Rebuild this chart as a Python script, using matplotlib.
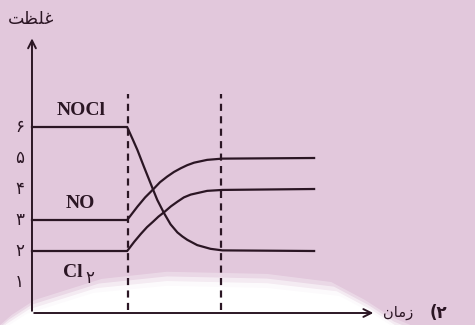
import matplotlib
matplotlib.use("Agg")
import matplotlib.pyplot as plt
from matplotlib.patches import Polygon

# values (time, concentration)
t_start = [0, 3.07]
nocl_t = [3.07, 3.25, 3.40, 3.61, 3.91, 4.04, 4.26, 4.47, 4.69, 4.85, 5.01, 5.33, 5.76, 6.14, 9.10]
nocl_c = [6.0, 5.6, 5.26, 4.72, 3.97, 3.65, 3.22, 2.86, 2.60, 2.47, 2.36, 2.19, 2.07, 2.02, 2.0]
no_t = [3.07, 3.40, 3.65, 3.91, 4.13, 4.36, 4.58, 4.80, 5.01, 5.23, 5.65, 6.14, 9.10]
no_c = [3.0, 3.43, 3.73, 3.99, 4.22, 4.40, 4.55, 4.67, 4.77, 4.85, 4.94, 4.98, 5.0]
cl2_t = [3.07, 3.30, 3.51, 3.71, 3.91, 4.08, 4.26, 4.48, 4.69, 4.90, 5.12, 5.65, 6.14, 9.10]
cl2_c = [2.0, 2.30, 2.55, 2.77, 2.95, 3.11, 3.25, 3.44, 3.59, 3.73, 3.82, 3.94, 3.97, 4.0]
dash_t = [3.1, 6.1]
yticks = [1, 2, 3, 4, 5, 6]
ytick_labels = ["۱", "۲", "۳", "۴", "۵", "۶"]

# arabic words in visual order with presentation forms (no shaping in matplotlib)
ylabel = "\uFE96\uFEC8\uFEE0\uFECF"   # غلظت
xlabel = "\uFEE5\uFE8E\uFEE3\uFEAF"   # زمان

ink = "#2b1624"
bg = "#e2c8dc"

fig = plt.figure(figsize=(4.75, 3.25), dpi=100, facecolor=bg)
ax = fig.add_axes([0, 0, 1, 1], facecolor=bg)
ax.set_xlim(-1.032, 14.29)
ax.set_ylim(-0.387, 10.097)
ax.axis("off")

# white dome in the background, soft edge from a few layers
dome_x = [-1.1, -0.71, 0.03, 2.19, 4.35, 7.58, 9.71, 10.8, 11.65, 12.3]
dome_y = [-0.5, -0.16, 0.32, 1.0, 1.23, 1.16, 0.9, 0.32, -0.23, -0.5]
for s, a in [(0.1, 0.3), (-0.05, 0.5), (-0.2, 0.8), (-0.35, 1.0)]:
    pts = [(x + (0.6 * s if x < 4 else -0.6 * s if x > 8 else 0), y + s) for x, y in zip(dome_x, dome_y)]
    ax.add_patch(Polygon(pts, closed=True, facecolor="white", edgecolor="none", alpha=a, zorder=0))

# axes with open arrowheads
ax.annotate("", xy=(0, 8.95), xytext=(0, -0.02),
            arrowprops=dict(arrowstyle="->", lw=1.4, color=ink, mutation_scale=14))
ax.annotate("", xy=(11.1, 0), xytext=(-0.02, 0),
            arrowprops=dict(arrowstyle="->", lw=1.4, color=ink, mutation_scale=14))

for x in dash_t:
    ax.plot([x, x], [0.1, 7.05], color=ink, lw=1.6, ls=(0, (3.2, 2.4)), zorder=2)

for tt, cc in [(nocl_t, nocl_c), (no_t, no_c), (cl2_t, cl2_c)]:
    ax.plot(t_start + tt, [cc[0]] * 2 + cc, color=ink, lw=1.6, solid_joinstyle="round", zorder=3)

for y, lab in zip(yticks, ytick_labels):
    ax.text(-0.4, y, lab, ha="center", va="center", fontsize=12, color=ink, family="DejaVu Sans")

serif = ["Liberation Serif", "DejaVu Sans"]
ax.text(1.58, 6.52, "NOCl", ha="center", va="center", fontsize=14, fontweight="bold", color=ink, family=serif)
ax.text(1.55, 3.52, "NO", ha="center", va="center", fontsize=14, fontweight="bold", color=ink, family=serif)
ax.text(1.32, 1.32, "Cl", ha="center", va="center", fontsize=14, fontweight="bold", color=ink, family=serif)
ax.text(1.88, 1.12, "۲", ha="center", va="center", fontsize=12, color=ink, family="DejaVu Sans")

ax.text(-0.03, 9.5, ylabel, ha="center", va="center", fontsize=12.5, color=ink, family="DejaVu Sans")
ax.text(11.8, 0.02, xlabel, ha="center", va="center", fontsize=10.5, color=ink, family="DejaVu Sans")
ax.text(13.1, 0.0, "(۲", ha="center", va="center", fontsize=12, fontweight="bold", color=ink, family="DejaVu Sans")

fig.savefig("out.png", dpi=100, facecolor=bg)
